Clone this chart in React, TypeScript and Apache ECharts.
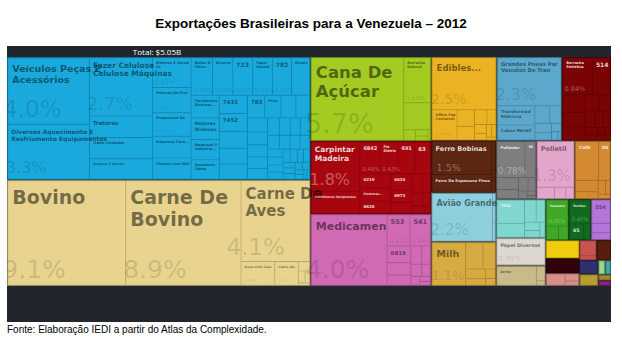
import { useEffect, useRef } from 'react';
import * as echarts from 'echarts';

const TITLE = 'Exportações Brasileiras para a Venezuela – 2012';
const TOTAL_TEXT = 'Total: $5.05B';
const SOURCE_TEXT = 'Fonte: Elaboração IEDI a partir do Atlas da Complexidade.';

type Item = [string, number];

// shares of total exports (%)
const maquinas: Item[] = [
  ['Veículos Peças E Acessórios', 4.0],
  ['Diversos Aquecimento E Resfriamento Equipamentos', 3.3],
  ['Fazer Celulose Celulose Máquinas', 2.7],
  ['Tratores', 1.0],
  ['Trator Unidades', 0.98],
  ['Esquinas E Painéis', 0.95],
  ['Motores E Geradores De Ac', 0.85],
  ['Motores De Pistão', 0.72],
  ['Preparação De Sa...', 0.67],
  ['Máquinas Para...', 0.62],
  ['Chassis Com Motor', 0.6],
  ['Bielas De Fibra...', 0.59],
  ['Diversos', 0.56],
  ['7234', 0.55],
  ['Papel Revestido', 0.54],
  ['7821', 0.53],
  ['Diversos Fund', 0.5],
  ['Ferramentas Diversas...', 0.47],
  ['Motores Diversos', 0.45],
  ['Máquinas Para Indústria...', 0.42],
  ['Secadores Para Tubos', 0.4],
  ['7431', 0.38],
  ['7452', 0.37],
  ['', 0.35], ['', 0.33], ['', 0.31],
  ['7831', 0.29],
  ['Peças...', 0.27],
  ['', 0.25], ['', 0.23], ['', 0.21], ['', 0.19], ['', 0.18], ['', 0.17], ['', 0.16],
  ['', 0.15], ['', 0.14], ['', 0.13], ['', 0.12], ['', 0.12],
  ['', 0.11], ['', 0.1], ['', 0.1], ['', 0.09], ['', 0.09], ['', 0.08], ['', 0.08],
  ['', 0.07], ['', 0.07], ['', 0.06], ['', 0.06], ['', 0.05], ['', 0.05], ['', 0.05],
  ['', 0.04], ['', 0.04], ['', 0.03], ['', 0.03], ['', 0.02], ['', 0.02],
];
const animais: Item[] = [
  ['Bovino', 9.1], ['Carne De Bovino', 8.9], ['Carne De Aves', 4.1],
  ['Ovos Com Casca', 0.59], ['Carne De...', 0.41], ['', 0.08], ['', 0.06], ['', 0.04], ['', 0.02],
];
const vegetais: Item[] = [
  ['Cana De Açúcar', 5.7], ['Borracha Natural', 0.9], ['', 0.54], ['', 0.09], ['', 0.06], ['', 0.04], ['', 0.02],
];
const madeira: Item[] = [
  ['Carpintaria Madeira', 1.8], ['Contêineres Recipientes', 0.8], ['6842', 0.48], ['Fio Elétrico', 0.43],
  ['6911', 0.4], ['6342', 0.38], ['0219', 0.33], ['Cisternas...', 0.3], ['6828', 0.28], ['6024', 0.26],
  ['6973', 0.2], ['', 0.17], ['', 0.15], ['', 0.12], ['', 0.1], ['', 0.08], ['', 0.07], ['', 0.03],
];
const quimicos: Item[] = [
  ['Medicamentos', 4.0], ['5530', 0.53], ['5419', 0.48], ['0819', 0.3], ['', 0.22], ['', 0.18],
  ['', 0.15], ['', 0.12], ['', 0.1], ['', 0.08], ['', 0.06], ['', 0.04], ['', 0.03],
];
const alimentos: Item[] = [
  ['Edibles...', 2.5], ['Office Paper Containers', 0.57], ['', 0.22], ['', 0.18], ['', 0.14],
  ['', 0.1], ['', 0.08], ['', 0.06], ['', 0.05], ['', 0.04], ['', 0.02],
];
const eletricos: Item[] = [
  ['Grandes Pneus Para Veículos De Transporte', 2.3], ['Transformadores Elétricos', 0.55], ['Cabos Metálicos', 0.42],
  ['', 0.2], ['', 0.15], ['', 0.12], ['', 0.09], ['', 0.06], ['', 0.04], ['', 0.02],
];
const borracha: Item[] = [
  ['Borracha Sintética', 0.84], ['5146', 0.5], ['', 0.3], ['', 0.25], ['', 0.22], ['', 0.18], ['', 0.15],
  ['', 0.12], ['', 0.1], ['', 0.08], ['', 0.07], ['', 0.05], ['', 0.04], ['', 0.03], ['', 0.03], ['', 0.02],
];
const metais: Item[] = [['Ferro Bobinas', 1.5], ['Ferro De Espessura Finos', 0.8], ['', 0.08], ['', 0.06]];
const aviao: Item[] = [['Avião Grande', 2.2], ['', 0.06], ['', 0.04]];
const cereais: Item[] = [['Milho', 1.1], ['', 0.35], ['', 0.25], ['', 0.15], ['', 0.1], ['', 0.07], ['', 0.05]];
const fibras: Item[] = [
  ['Poliésteres', 0.78], ['6553', 0.3], ['', 0.2], ['', 0.15], ['', 0.1], ['', 0.08], ['', 0.05], ['', 0.03], ['', 0.02],
];
const plasticos: Item[] = [['Polietileno', 1.3], ['', 0.15], ['', 0.1], ['', 0.07]];
const cafe: Item[] = [['Café', 0.7], ['0612', 0.35], ['', 0.2], ['', 0.12], ['', 0.08], ['', 0.05], ['', 0.04]];
const equipamentos: Item[] = [['7552', 0.5], ['', 0.3], ['', 0.2], ['', 0.15], ['', 0.1], ['', 0.08], ['', 0.06]];
const papel: Item[] = [['Papel Diversos', 0.99]];
const arroz: Item[] = [['Arroz', 0.6], ['', 0.1], ['', 0.03]];
const calcados: Item[] = [['Calçados', 0.45], ['', 0.13], ['', 0.1]];
const tecidos: Item[] = [['Tecidos...', 0.4], ['6522', 0.18], ['', 0.08]];
const roxo: Item[] = [['5541', 0.35], ['', 0.14], ['', 0.1]];
const amarelo: Item[] = [['', 0.45]];
const bordo: Item[] = [['', 0.36]];
const salmao: Item[] = [['', 0.18], ['', 0.08], ['', 0.05]];
const vermelho: Item[] = [['', 0.2], ['', 0.05]];
const marrom: Item[] = [['', 0.21]];
const marinho: Item[] = [['', 0.19]];
const oliva: Item[] = [['', 0.16]];
const verdeClaro: Item[] = [['', 0.07]];
const petroleo: Item[] = [['', 0.06]];
const oliva2: Item[] = [['', 0.055]];
const magenta: Item[] = [['', 0.05]];

const SECTORS: Item[][] = [
  maquinas, animais, vegetais, madeira, quimicos, alimentos, eletricos, borracha, metais, aviao, cereais,
  fibras, plasticos, cafe, equipamentos, papel, arroz, calcados, tecidos, roxo, amarelo, bordo, salmao,
  vermelho, marrom, marinho, oliva, verdeClaro, petroleo, oliva2, magenta,
];
const SECTOR_COLORS = [
  '#1aa9dc', '#e8d48e', '#a3cb22', '#a8060f', '#d16ab4', '#ebb223', '#5ba8cc', '#7a0303', '#5b2612', '#8dcfdc', '#d8ab42',
  '#7e7e7e', '#e3a5c9', '#d48a31', '#80d7cd', '#dcd7cf', '#c9ba89', '#40a826', '#106a20', '#b375d7', '#efcd0c', '#2f0309', '#d78f89',
  '#c9534f', '#591d0d', '#30306f', '#b59e33', '#97d98d', '#47a5a7', '#9c8b2b', '#8b2581',
];
const SECTOR_LIGHT_TEXT = [
  false, false, false, true, false, false, false, true, true, false, false,
  true, false, true, true, false, false, true, true, false, false, true, false,
  true, true, true, false, false, true, false, true,
];

// label styles: n = name font, p = percent font, dx = percent shift, lh = line height, free = no truncation
const LABEL_STYLE: Record<string, { n: number; p?: number; dx?: number; lh?: number; free?: boolean }> = {
  'Bovino': { n: 19, p: 25, lh: 22 },
  'Carne De Bovino': { n: 19, p: 25, dx: -7, lh: 22 },
  'Carne De Aves': { n: 15, p: 23, dx: -19, lh: 16.5, free: true },
  'Ovos Com Casca': { n: 3.2, p: 4 },
  'Carne De...': { n: 3.2, p: 4 },
  'Veículos Peças E Acessórios': { n: 9.5, p: 23, lh: 10.5, free: true },
  'Diversos Aquecimento E Resfriamento Equipamentos': { n: 6, p: 16, lh: 7, free: true },
  'Fazer Celulose Celulose Máquinas': { n: 7.5, p: 18, lh: 8, free: true },
  'Tratores': { n: 5.5 },
  'Trator Unidades': { n: 3.5 },
  'Esquinas E Painéis': { n: 3 },
  'Motores E Geradores De Ac': { n: 3.5, p: 6.5 },
  'Motores De Pistão': { n: 3.5, p: 5 },
  'Preparação De Sa...': { n: 3.5, p: 5 },
  'Máquinas Para...': { n: 3.5 },
  'Chassis Com Motor': { n: 3.5 },
  'Bielas De Fibra...': { n: 3.5, p: 6 },
  'Diversos': { n: 3.5, p: 6 },
  '7234': { n: 6, p: 6 },
  'Papel Revestido': { n: 3.5, p: 6 },
  '7821': { n: 6, p: 6 },
  'Diversos Fund': { n: 3.5 },
  'Ferramentas Diversas...': { n: 3.5 },
  'Motores Diversos': { n: 4.5 },
  'Máquinas Para Indústria...': { n: 3.5 },
  'Secadores Para Tubos': { n: 3.5 },
  '7431': { n: 5.5 },
  '7452': { n: 5.5 },
  '7831': { n: 5.5 },
  'Peças...': { n: 3.5 },
  'Cana De Açúcar': { n: 16.5, p: 27, lh: 18.5 },
  'Borracha Natural': { n: 3.5, p: 6 },
  'Carpintaria Madeira': { n: 7.5, p: 16, lh: 8.5 },
  'Contêineres Recipientes': { n: 3 },
  '6842': { n: 5, p: 5.5 },
  'Fio Elétrico': { n: 3.5, p: 5.5 },
  '6911': { n: 5 },
  '6342': { n: 5.5 },
  '0219': { n: 4 },
  'Cisternas...': { n: 3 },
  '6828': { n: 4 },
  '6024': { n: 4 },
  '6973': { n: 4 },
  'Medicamentos': { n: 11, p: 25 },
  '5530': { n: 6.5, p: 6 },
  '5419': { n: 6.5, p: 6 },
  '0819': { n: 5.5 },
  'Edibles...': { n: 8.5, p: 14 },
  'Office Paper Containers': { n: 3.5, p: 5.5 },
  'Grandes Pneus Para Veículos De Transporte': { n: 5.3, p: 16, lh: 6 },
  'Transformadores Elétricos': { n: 4.2 },
  'Cabos Metálicos': { n: 4.2 },
  'Borracha Sintética': { n: 3.5, p: 6.5 },
  '5146': { n: 6 },
  'Ferro Bobinas': { n: 6.5, p: 9.5, dx: 0 },
  'Ferro De Espessura Finos': { n: 3.8 },
  'Avião Grande': { n: 8, p: 15, free: true },
  'Milho': { n: 9.5, p: 13 },
  'Poliésteres': { n: 3.8, p: 9 },
  '6553': { n: 3.5 },
  'Polietileno': { n: 6.5, p: 15, dx: -9 },
  'Café': { n: 4.5 },
  '0612': { n: 4.5 },
  '7552': { n: 3.8 },
  'Papel Diversos': { n: 4.8, p: 7 },
  'Arroz': { n: 3.5 },
  'Calçados': { n: 3, p: 5 },
  'Tecidos...': { n: 3, p: 5 },
  '6522': { n: 4.7 },
  '5541': { n: 5 },
};

const LINE_BREAKS: Record<string, string> = {
  'Veículos Peças E Acessórios': 'Veículos Peças E\nAcessórios',
  'Diversos Aquecimento E Resfriamento Equipamentos': 'Diversos Aquecimento E\nResfriamento Equipamentos',
  'Fazer Celulose Celulose Máquinas': 'Fazer Celulose\nCelulose Máquinas',
  'Carne De Bovino': 'Carne De\nBovino',
  'Carne De Aves': 'Carne De\nAves',
  'Cana De Açúcar': 'Cana De\nAçúcar',
  'Carpintaria Madeira': 'Carpintaria\nMadeira',
  'Grandes Pneus Para Veículos De Transporte': 'Grandes Pneus Para\nVeículos De Transporte',
  'Motores E Geradores De Ac': 'Motores E Geradores De\nAc',
  'Bielas De Fibra...': 'Bielas De\nFibra...',
  'Papel Revestido': 'Papel\nRevestido',
  'Borracha Natural': 'Borracha\nNatural',
  'Borracha Sintética': 'Borracha\nSintética',
  'Office Paper Containers': 'Office Paper\nContainers',
  'Transformadores Elétricos': 'Transformadores\nElétricos',
  'Ferramentas Diversas...': 'Ferramentas\nDiversas...',
  'Motores Diversos': 'Motores\nDiversos',
  'Máquinas Para Indústria...': 'Máquinas Para\nIndústria...',
  'Secadores Para Tubos': 'Secadores Para\nTubos',
  'Fio Elétrico': 'Fio\nElétrico',
};

const shade = (hex: string, k: number) => {
  const n = parseInt(hex.slice(1), 16);
  const r = Math.round(((n >> 16) & 255) * k);
  const g = Math.round(((n >> 8) & 255) * k);
  const b = Math.round((n & 255) * k);
  return `rgb(${r},${g},${b})`;
};
const fmtPct = (v: number) => (v >= 1 ? v.toFixed(1) : v.toFixed(2)) + '%';
const CLEAR = 'rgba(0,0,0,0)';

function buildData(pct: boolean) {
  return SECTORS.map((items, si) => {
    const color = SECTOR_COLORS[si];
    const light = SECTOR_LIGHT_TEXT[si];
    const children = items.map(([name, value]) => {
      const s = LABEL_STYLE[name];
      const item: any = { name, value };
      if (!pct) {
        const n = s ? s.n : 4;
        item.itemStyle = { color, borderColor: shade(color, 0.86) };
        item.label = {
          fontSize: n,
          lineHeight: s && s.lh ? s.lh : Math.round(n * 1.15 * 10) / 10,
          color: light ? 'rgba(255,255,255,0.85)' : 'rgba(0,0,0,0.5)',
          padding: n >= 8 ? [5, 0, 2, 4] : [3, 0, 1, 3],
          overflow: s && s.free ? 'none' : 'truncate',
        };
      } else {
        item.itemStyle = { color: CLEAR, borderColor: CLEAR };
        if (s && s.p) {
          item.label = {
            show: true,
            fontSize: s.p,
            lineHeight: s.p,
            color: light ? 'rgba(255,255,255,0.35)' : 'rgba(0,0,0,0.14)',
            padding: [0, 0, s.p >= 12 ? 3 : 2, 4],
            offset: [s.dx !== undefined ? s.dx : -0.4 * s.p, 0],
          };
        } else {
          item.label = { show: false };
        }
      }
      return item;
    });
    return {
      name: 'S' + si,
      children,
      itemStyle: pct ? { color: CLEAR, borderColor: CLEAR } : { color, borderColor: shade(color, 0.6) },
    };
  });
}

export default function App() {
  const ref = useRef<HTMLDivElement>(null);
  useEffect(() => {
    if (!ref.current) return;
    const chart = echarts.init(ref.current, undefined, { renderer: 'svg' });
    const levels = [
      { itemStyle: { borderWidth: 0, gapWidth: 0, borderColor: CLEAR } },
      { itemStyle: { borderWidth: 0.8, gapWidth: 0 } },
      { itemStyle: { borderWidth: 0.5, gapWidth: 0 } },
    ];
    const common: any = {
      type: 'treemap',
      left: 7,
      top: 57,
      width: 604,
      height: 229,
      roam: false,
      nodeClick: false,
      breadcrumb: { show: false },
      upperLabel: { show: false },
      emphasis: { disabled: true },
      levels,
    };
    chart.setOption({
      animation: false,
      tooltip: { show: false },
      graphic: [
        { type: 'rect', z: 0, shape: { x: 7, y: 46, width: 604, height: 276 }, style: { fill: '#21262e' } },
        {
          type: 'text', z: 101, x: 311, y: 23,
          style: { text: TITLE, font: 'bold 13.5px "Liberation Sans", Arial, sans-serif', fill: '#000', textAlign: 'center', textVerticalAlign: 'middle' },
        },
        {
          type: 'text', z: 101, x: 157, y: 51.5,
          style: { text: TOTAL_TEXT, font: '8px "Open Sans", sans-serif', fill: '#ffffff', textAlign: 'center', textVerticalAlign: 'middle' },
        },
        {
          type: 'text', z: 101, x: 7, y: 329,
          style: { text: SOURCE_TEXT, font: '10px "Liberation Sans", Arial, sans-serif', fill: '#000', textAlign: 'left', textVerticalAlign: 'middle' },
        },
        { type: 'rect', z: 100, shape: { x: 0, y: 46, width: 7, height: 276 }, style: { fill: '#ffffff' } },
      ],
      series: [
        {
          ...common,
          id: 'names',
          data: buildData(false),
          label: {
            show: true,
            position: 'insideTopLeft',
            distance: 0,
            fontFamily: 'DejaVu Sans',
            fontWeight: 'bold',
            overflow: 'truncate',
            ellipsis: '',
            formatter: (p: any) => (p.name ? LINE_BREAKS[p.name] ?? p.name : ''),
          },
        },
        {
          ...common,
          id: 'pct',
          silent: true,
          data: buildData(true),
          label: {
            show: true,
            position: 'insideBottomLeft',
            distance: 0,
            fontFamily: 'DejaVu Sans',
            fontWeight: 'normal',
            overflow: 'none',
            formatter: (p: any) => fmtPct(p.value),
          },
        },
      ],
    });
    return () => chart.dispose();
  }, []);
  return (
    <div style={{ position: 'fixed', left: 0, top: 0, width: 622, height: 345, background: '#ffffff' }}>
      <div ref={ref} style={{ width: 622, height: 345 }} />
    </div>
  );
}
